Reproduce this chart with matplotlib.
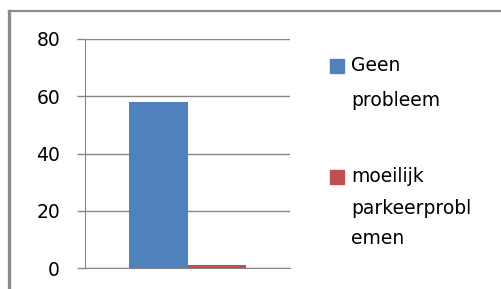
import matplotlib
matplotlib.use("Agg")
import matplotlib.pyplot as plt
from matplotlib.lines import Line2D
from matplotlib.patches import Rectangle

series = ["Geen\nprobleem", "moeilijk\nparkeerprobl\nemen"]
values = [58, 1]
colors = ["#4F81BD", "#C0504D"]
yticks = [0, 20, 40, 60, 80]

W, H = 501, 289
fig = plt.figure(figsize=(W / 100, H / 100), dpi=100)
plt.rcParams['font.family'] = ['DejaVu Sans']

def fx(px):
    return px / W

def fy(py):
    return 1 - py / H

ax = fig.add_axes([fx(85), fy(268), fx(290) - fx(85), fy(39) - fy(268)])
width = 0.285
offsets = [-width / 2, width / 2]
for v, c, o in zip(values, colors, offsets):
    ax.bar([o], [v], width=width, color=c, zorder=3)

ax.set_xlim(-0.5, 0.5)
ax.set_ylim(0, 80)
ax.set_yticks(yticks)
ax.set_yticklabels([str(t) for t in yticks], fontsize=13.5, color="#000000")
ax.set_xticks([])
ax.yaxis.grid(True, color="#868686", linewidth=1.0, zorder=0)
for s in ["top", "right"]:
    ax.spines[s].set_visible(False)
ax.spines["left"].set_color("#868686")
ax.spines["bottom"].set_color("#868686")
ax.tick_params(axis="y", length=6, width=1.0, color="#868686", pad=12)

# legend (manual)
leg_y = [[66, 100], [177, 208, 238]]
for (lab, c, ys) in zip(series, colors, leg_y):
    fig.patches.append(Rectangle((fx(330), fy(ys[0] + 7)), fx(14), fy(0) - fy(14),
                                 transform=fig.transFigure, color=c))
    for line, y in zip(lab.split("\n"), ys):
        fig.text(fx(351), fy(y), line, fontsize=13.5, va="center", ha="left")

# outer frame (top and left)
fig.lines.append(Line2D([fx(8.5), 1], [fy(11), fy(11)], transform=fig.transFigure,
                        color="#8c8c8c", linewidth=1.6))
fig.lines.append(Line2D([fx(8.5), fx(8.5)], [fy(11), 0], transform=fig.transFigure,
                        color="#8c8c8c", linewidth=2.4))

fig.savefig("out.png", dpi=100)
